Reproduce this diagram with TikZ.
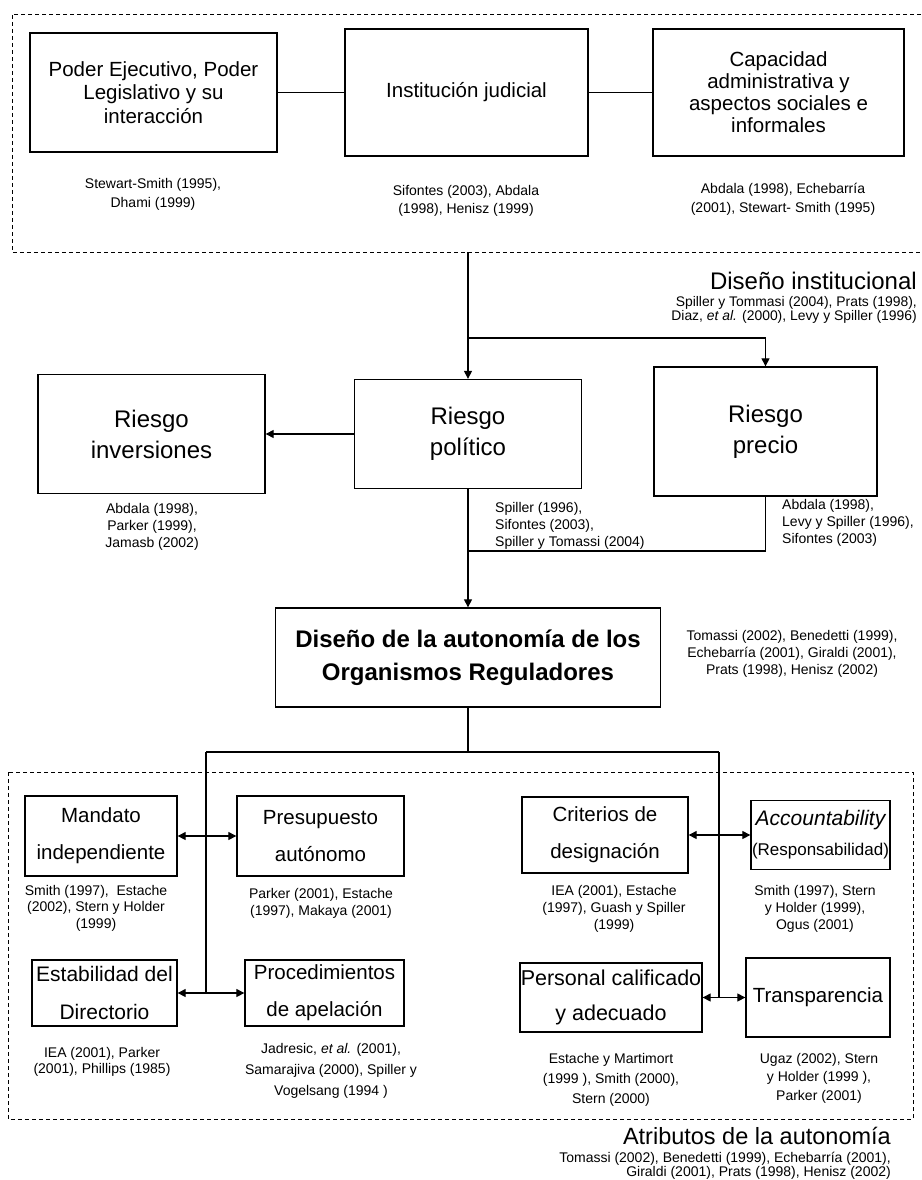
\documentclass[tikz,border=0pt]{standalone}
\usepackage{fontspec}
\setmainfont{Liberation Sans}
\usetikzlibrary{arrows.meta}

\begin{document}
\begin{tikzpicture}[x=1pt, y=-1pt,
		box/.style={draw, line width=1.3pt, inner sep=0pt, align=center},
		topbox/.style={box, font=\fontsize{20.5}{23.5}\selectfont},
		riskbox/.style={box, font=\fontsize{24}{31}\selectfont},
		attrbox/.style={box, font=\fontsize{20.5}{37}\selectfont},
		refs/.style={inner sep=0pt, align=center, anchor=north, font=\fontsize{14}{#1}\selectfont},
		refs/.default=17,
		dashbox/.style={line width=0.8pt, dash pattern=on 4pt off 3pt},
		link/.style={line width=1.1pt},
		arr/.style={link, -{Triangle[length=8pt,width=8pt]}},
		dbl/.style={link, {Triangle[length=8pt,width=8pt]}-{Triangle[length=8pt,width=8pt]}}]
			%%%%% START %%%%%
			\useasboundingbox (0,0) rectangle (921,1180);
			
			% institutional design
			\draw[dashbox] (921,14) -- (12,14) -- (12,252) -- (921,252);
			\node[topbox, minimum width=247pt, minimum height=119pt] (ejec) at (153.5,92.5) {Poder Ejecutivo, Poder\\Legislativo y su\\interacción};
			\node[topbox, minimum width=243pt, minimum height=127pt] (judic) at (466.5,92.5) {Institución judicial};
			\node[topbox, font=\fontsize{20.5}{22}\selectfont, minimum width=251pt, minimum height=127pt] (capac) at (778.5,92.5) {Capacidad\\administrativa y\\aspectos sociales e\\informales};
			\node[refs=19] (ejecrefs) at (153,178) {Stewart-Smith (1995),\\Dhami (1999)};
			\node[refs=18] (judicrefs) at (466,185) {Sifontes (2003), Abdala\\(1998), Henisz (1999)};
			\node[refs=19] (capacrefs) at (783,183) {Abdala (1998), Echebarría\\(2001), Stewart- Smith (1995)};
			
			\node[anchor=base east, inner sep=0pt, font=\fontsize{24}{28}\selectfont] (dinst) at (917,289) {Diseño institucional};
			\node[anchor=north east, inner sep=0pt, align=right, font=\fontsize{13.9}{14}\selectfont] (dinstrefs) at (917,296) {Spiller y Tommasi (2004), Prats (1998),\\Diaz, \textit{et al.} (2000), Levy y Spiller (1996)};
			
			% risks
			\node[riskbox, minimum width=227pt, minimum height=119pt] (inver) at (151.5,434) {Riesgo\\inversiones};
			\node[riskbox, minimum width=227pt, minimum height=109pt] (polit) at (468,434) {Riesgo\\político};
			\node[riskbox, minimum width=223pt, minimum height=129pt] (precio) at (765.5,431.5) {Riesgo\\precio};
			\node[refs] (inverrefs) at (152,503) {Abdala (1998),\\Parker (1999),\\Jamasb (2002)};
			\node[refs, anchor=north west, align=left] (politrefs) at (495,502) {Spiller (1996),\\Sifontes (2003),\\Spiller y Tomassi (2004)};
			\node[refs, anchor=north west, align=left] (preciorefs) at (782,499) {Abdala (1998),\\Levy y Spiller (1996),\\Sifontes (2003)};
			
			\node[box, font=\bfseries\fontsize{24}{33}\selectfont, minimum width=385pt, minimum height=99pt] (diseno) at (468,657.5) {Diseño de la autonomía de los\\Organismos Reguladores};
			\node[refs] (disenorefs) at (792,630) {Tomassi (2002), Benedetti (1999),\\Echebarría (2001), Giraldi (2001),\\Prats (1998), Henisz (2002)};
			
			% attributes
			\draw[dashbox] (8,772) rectangle (913,1119);
			\node[attrbox, minimum width=152pt, minimum height=80pt] (mandato) at (101,836) {Mandato\\independiente};
			\node[attrbox, minimum width=167pt, minimum height=80pt] (presup) at (320.5,836) {Presupuesto\\autónomo};
			\node[attrbox, minimum width=166pt, minimum height=76pt] (criter) at (605,835) {Criterios de\\designación};
			\node[box, font=\fontsize{17}{30}\selectfont, minimum width=139pt, minimum height=69pt] (account) at (820.5,835) {{\fontsize{21}{30}\selectfont\itshape Accountability}\\(Responsabilidad)};
			\node[attrbox, font=\fontsize{21}{38}\selectfont, minimum width=145pt, minimum height=66pt] (estab) at (104.5,993) {Estabilidad del\\Directorio};
			\node[attrbox, minimum width=159pt, minimum height=66pt] (proced) at (324.5,993) {Procedimientos\\de apelación};
			\node[attrbox, font=\fontsize{21.5}{35}\selectfont, minimum width=182pt, minimum height=69pt] (personal) at (611,997.5) {Personal calificado\\y adecuado};
			\node[attrbox, minimum width=144pt, minimum height=79pt] (transp) at (818,997.5) {Transparencia};
			
			\node[refs=16.5] (mandatorefs) at (96,885) {Smith (1997),\ \ Estache\\(2002), Stern y Holder\\(1999)};
			\node[refs] (presuprefs) at (321,888) {Parker (2001), Estache\\(1997), Makaya (2001)};
			\node[refs] (criterrefs) at (614,885) {IEA (2001), Estache\\(1997), Guash y Spiller\\(1999)};
			\node[refs] (accountrefs) at (815,885) {Smith (1997), Stern\\y Holder (1999),\\Ogus (2001)};
			\node[refs=16] (estabrefs) at (102,1047) {IEA (2001), Parker\\(2001), Phillips (1985)};
			\node[refs=21] (procedrefs) at (331,1043) {Jadresic, \textit{et al.} (2001),\\Samarajiva (2000), Spiller y\\Vogelsang (1994 )};
			\node[refs=20] (personalrefs) at (611,1053) {Estache y Martimort\\(1999 ), Smith (2000),\\Stern (2000)};
			\node[refs=18.5] (transprefs) at (819,1053) {Ugaz (2002), Stern\\y Holder (1999 ),\\Parker (2001)};
			
			\node[anchor=base east, inner sep=0pt, font=\fontsize{23.5}{28}\selectfont] (atrib) at (891,1144) {Atributos de la autonomía};
			\node[anchor=north east, inner sep=0pt, align=right, font=\fontsize{14}{14}\selectfont] (atribrefs) at (891,1151.5) {Tomassi (2002), Benedetti (1999), Echebarría (2001),\\Giraldi (2001), Prats (1998), Henisz (2002)};
			
			% connectors
			\coordinate (tb) at (468,252);
			\coordinate (split) at (468,338);
			\coordinate (merge) at (468,551);
			\coordinate (fork) at (468,752);
			\coordinate (forkL) at (206,752);
			\coordinate (forkR) at (719,752);
			
			\draw[link] (ejec) -- (judic);
			\draw[link] (judic) -- (capac);
			\draw[arr] (tb) -- (polit);
			\draw[arr] (split) -| (precio);
			\draw[arr] (polit) -- (inver);
			\draw[arr] (polit) -- (diseno);
			\draw[link] (precio) |- (merge);
			\draw[link] (diseno) -- (fork);
			\draw[link] (forkL) -- (forkR);
			\draw[link] (forkL) -- (forkL |- estab.east);
			\draw[link] (forkR) -- (forkR |- personal.east);
			\draw[dbl] (mandato) -- (presup);
			\draw[dbl] (criter) -- (account);
			\draw[dbl] (estab) -- (proced);
			\draw[dbl] (personal) -- (transp);
			%%%%% END %%%%%
\end{tikzpicture}
\end{document}
